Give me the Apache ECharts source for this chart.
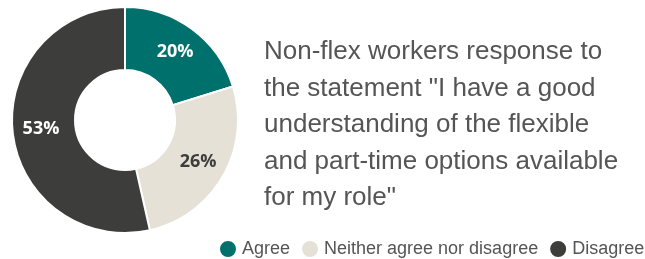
<!DOCTYPE html>
<html>
<head>
<meta charset="utf-8">
<script src="https://cdn.jsdelivr.net/npm/echarts@6/dist/echarts.min.js"></script>
<style>
  html, body { margin: 0; padding: 0; background: #fff; }
  #chart { width: 645px; height: 259px; }
</style>
</head>
<body>
<div id="chart"></div>
<script>
// 数据
const categories = ['Agree', 'Neither agree nor disagree', 'Disagree'];
const values = [20, 26, 53];
const colors = ['#00706c', '#e5e1d7', '#3d3d3b'];
const labelColors = ['#ffffff', '#3d3d3b', '#ffffff'];
const titleText = 'Non-flex workers response to\nthe statement "I have a good\nunderstanding of the flexible\nand part-time options available\nfor my role"';

const chart = echarts.init(document.getElementById('chart'));

const option = {
    animation: false,
    title: {
        text: titleText,
        left: 264,
        top: 34,
        padding: 0,
        textStyle: {
            fontFamily: 'Liberation Sans',
            fontSize: 26,
            fontWeight: 'normal',
            lineHeight: 36.5,
            color: '#555555'
        }
    },
    legend: {
        data: categories,
        left: 218,
        top: 239,
        width: 427,
        padding: 0,
        icon: 'circle',
        itemWidth: 18,
        itemHeight: 18,
        itemGap: 10,
        textStyle: { fontFamily: 'Liberation Sans', fontSize: 18, color: '#555555' }
    },
    series: [{
        type: 'pie',
        center: [125, 120],
        radius: [50, 113],
        startAngle: 90,
        clockwise: true,
        itemStyle: { borderColor: '#ffffff', borderWidth: 2 },
        label: {
            position: 'inside',
            formatter: '{c}%',
            fontFamily: 'Open Sans',
            fontWeight: 'bold',
            fontSize: 18
        },
        labelLine: { show: false },
        emphasis: { disabled: true },
        data: categories.map((name, i) => ({
            name: name,
            value: values[i],
            itemStyle: { color: colors[i] },
            label: { color: labelColors[i] }
        }))
    }]
};
chart.setOption(option);
</script>
</body>
</html>
